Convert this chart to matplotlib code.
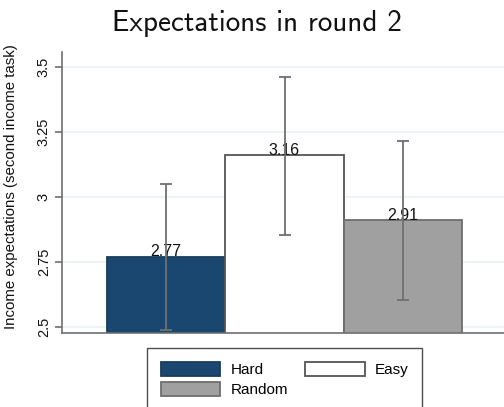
import matplotlib
matplotlib.use("Agg")
import matplotlib.pyplot as plt
from matplotlib.patches import Patch

groups = ["Hard", "Easy", "Random"]
means = [2.77, 3.16, 2.91]
ci_low = [2.49, 2.855, 2.605]
ci_high = [3.05, 3.46, 3.215]
yticks = [2.5, 2.75, 3.0, 3.25, 3.5]
ytick_labels = ["2.5", "2.75", "3", "3.25", "3.5"]

face_colors = ["#1a476f", "#ffffff", "#a0a0a0"]
edge_colors = ["#1a3d5c", "#555555", "#6e6e6e"]
axis_gray = "#6e6e6e"
grid_color = "#eaf2f3"

plt.rcParams["font.family"] = ["Liberation Sans", "DejaVu Sans"]

fig = plt.figure(figsize=(5.04, 4.07), dpi=100)
ax = fig.add_axes([62 / 504, 1 - 333 / 407, 445 / 504, 281 / 407])

x = list(range(len(groups)))
for i in x:
    ax.bar(i, means[i], width=1.0, bottom=0, color=face_colors[i],
           edgecolor=edge_colors[i], linewidth=1.3, zorder=2)
    ax.text(i, means[i] + 0.003, f"{means[i]:.2f}", ha="center",
            va="baseline", fontsize=11.5, color="#111111", zorder=3)
    ax.errorbar(i, means[i],
                yerr=[[means[i] - ci_low[i]], [ci_high[i] - means[i]]],
                fmt="none", ecolor="#707070", elinewidth=1.3, capsize=4,
                capthick=1.3, zorder=4, clip_on=True)

ax.set_xlim(-0.5 - 45 / 118, 2.5 + 45 / 118)
ax.set_ylim(2.477, 3.558)
ax.set_yticks(yticks)
ax.set_yticklabels(ytick_labels, rotation=90, va="center", fontsize=10.5)
ax.set_xticks([])
ax.grid(axis="y", color=grid_color, linewidth=1.2, zorder=0)
ax.set_axisbelow(True)

for side in ["top", "right"]:
    ax.spines[side].set_visible(False)
for side in ["left", "bottom"]:
    ax.spines[side].set_color(axis_gray)
    ax.spines[side].set_linewidth(1.2)
ax.tick_params(axis="y", length=5, width=1.2, color=axis_gray, pad=3,
               labelcolor="#111111")

ax.set_ylabel("Income expectations (second income task)", fontsize=10.8,
              color="#111111")
ax.yaxis.set_label_coords(-44 / 445, 0.52)

fig.suptitle("Expectations in round 2", x=257 / 504, y=1 - 10 / 407,
             va="top", fontsize=21, family="cmss10", color="#111111")

# two-column legend: first column Hard / Random, second column Easy
legend_order = [0, 2, 1]
handles = [Patch(facecolor=face_colors[i], edgecolor=edge_colors[i],
                 linewidth=1.3, label=groups[i]) for i in legend_order]
leg = fig.legend(handles=handles, ncol=2, loc="upper left",
                 bbox_to_anchor=(147 / 504, 1 - 348 / 407),
                 fontsize=11, frameon=True, fancybox=False,
                 handlelength=3.9, handleheight=1.05, handletextpad=0.65,
                 columnspacing=1.15, labelspacing=0.3, borderpad=0.9,
                 borderaxespad=0)
leg.get_frame().set_edgecolor("#222222")
leg.get_frame().set_linewidth(1.0)

fig.savefig("out.png", dpi=100)
